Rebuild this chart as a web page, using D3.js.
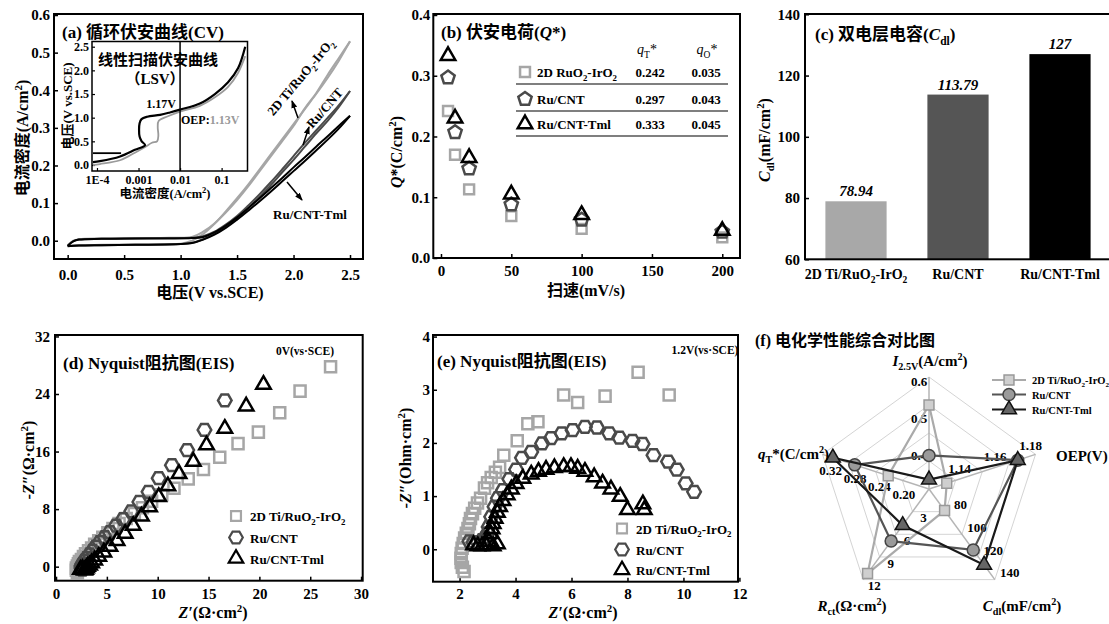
<!DOCTYPE html>
<html>
<head>
<meta charset="utf-8">
<script src="https://cdn.jsdelivr.net/npm/d3@7"></script>
<style>
body { margin: 0; background: #fff; }
svg { display: block; }
text { font-family: "Liberation Serif", "Noto Sans CJK SC", serif; font-weight: bold; }
</style>
</head>
<body>
<svg id="chart" width="1109" height="624"></svg>
<script>
// ---------- (a) CV data ----------
const cvVoltFwd = [0, 0.05, 0.1, 0.3, 0.6, 0.9, 1.1, 1.2, 1.3, 1.4, 1.5, 1.6, 1.7, 1.8, 1.9, 2.0, 2.1, 2.2, 2.3, 2.4, 2.5]
const cvVoltRev = [2.5, 2.4, 2.3, 2.2, 2.1, 2.0, 1.9, 1.8, 1.7, 1.6, 1.5, 1.4, 1.3, 1.2, 1.1, 1.0, 0.6, 0.3, 0.1, 0]
const cvTiFwd = [-0.012, 0.0, 0.004, 0.006, 0.007, 0.008, 0.01, 0.024, 0.046, 0.075, 0.108, 0.145, 0.185, 0.225, 0.265, 0.305, 0.352, 0.392, 0.44, 0.485, 0.53]
const cvTiRev = [0.53, 0.478, 0.432, 0.39, 0.35, 0.31, 0.27, 0.23, 0.19, 0.15, 0.113, 0.078, 0.045, 0.018, 0.0, -0.008, -0.01, -0.011, -0.012, -0.014]
const cvRuFwd = [-0.013, -0.001, 0.003, 0.005, 0.006, 0.007, 0.008, 0.012, 0.024, 0.043, 0.066, 0.094, 0.124, 0.156, 0.19, 0.225, 0.26, 0.293, 0.326, 0.36, 0.398]
const cvRuRev = [0.398, 0.355, 0.318, 0.285, 0.25, 0.215, 0.182, 0.148, 0.117, 0.087, 0.06, 0.037, 0.018, 0.004, -0.006, -0.009, -0.011, -0.012, -0.013, -0.014]
const cvTmlFwd = [-0.014, -0.002, 0.003, 0.005, 0.006, 0.006, 0.007, 0.01, 0.022, 0.04, 0.062, 0.087, 0.113, 0.14, 0.167, 0.195, 0.222, 0.25, 0.277, 0.305, 0.332]
const cvTmlRev = [0.332, 0.298, 0.268, 0.24, 0.212, 0.185, 0.158, 0.131, 0.105, 0.08, 0.056, 0.034, 0.016, 0.003, -0.006, -0.009, -0.011, -0.012, -0.013, -0.015]

// inset LSV (current density A/cm2, potential V)
const lsvBlackJ = [8e-5, 1.18e-4, 3.6e-4, 8.2e-4, 1.44e-3, 1.19e-3, 1.06e-3, 1.03e-3, 1.06e-3, 1.18e-3, 1.62e-3, 3.3e-3, 5.7e-3, 0.01, 0.03, 0.069, 0.143, 0.25, 0.37]
const lsvBlackV = [0.06, 0.08, 0.18, 0.32, 0.42, 0.5, 0.6, 0.75, 0.88, 0.97, 1.02, 1.06, 1.11, 1.17, 1.3, 1.5, 1.75, 2.05, 2.5]
const lsvBlack2J = [8e-5, 3.8e-4]
const lsvBlack2V = [0.25, 0.25]
const lsvGreyJ = [8e-5, 1.18e-4, 3.6e-4, 8.2e-4, 1.44e-3, 2.1e-3, 2.8e-3, 3.0e-3, 2.9e-3, 3.05e-3, 5.1e-3, 0.01, 0.03, 0.069, 0.143, 0.25, 0.37]
const lsvGreyV = [0.0, 0.02, 0.1, 0.26, 0.38, 0.47, 0.5, 0.62, 0.8, 0.93, 1.03, 1.13, 1.25, 1.43, 1.65, 1.95, 2.3]

// ---------- (b) voltammetric charge ----------
const scanRates = [5, 10, 20, 50, 100, 200]
const qTi = [0.242, 0.17, 0.113, 0.069, 0.048, 0.034]
const qRu = [0.297, 0.207, 0.147, 0.088, 0.063, 0.043]
const qTml = [0.333, 0.23, 0.165, 0.105, 0.071, 0.045]
const tableNames = ["2D RuO2-IrO2", "Ru/CNT", "Ru/CNT-Tml"]
const tableQT = ["0.242", "0.297", "0.333"]
const tableQO = ["0.035", "0.043", "0.045"]

// ---------- (c) double layer capacitance ----------
const samples = ["2D Ti/RuO2-IrO2", "Ru/CNT", "Ru/CNT-Tml"]
const cdlValues = [78.94, 113.79, 127]
const cdlLabels = ["78.94", "113.79", "127"]

// ---------- (d) EIS at 0 V ----------
const dTiX = [27.0, 24.0, 22.0, 19.9, 17.9, 16.1, 14.5, 13.0, 11.6, 10.4, 9.4, 8.5, 7.7, 6.9, 6.2, 5.6, 5.1, 4.6, 4.2, 3.8, 3.5, 3.2, 2.9, 2.7, 2.5, 2.3, 2.2, 2.1, 2.0, 2.0, 2.1]
const dTiY = [27.8, 24.4, 21.4, 18.7, 17.1, 15.2, 13.5, 12.2, 10.9, 10.0, 9.1, 8.2, 7.4, 6.7, 6.0, 5.3, 4.7, 4.1, 3.6, 3.1, 2.6, 2.2, 1.8, 1.4, 1.0, 0.7, 0.4, 0.1, -0.2, -0.5, -0.8]
const dRuX = [16.6, 14.6, 12.9, 11.4, 10.1, 9.1, 8.2, 7.4, 6.6, 5.9, 5.3, 4.8, 4.3, 3.9, 3.6, 3.3, 3.0, 2.8, 2.6, 2.5, 2.5, 2.6]
const dRuY = [23.1, 19.0, 16.2, 14.1, 12.3, 10.4, 9.0, 7.7, 6.6, 5.7, 4.8, 4.1, 3.4, 2.8, 2.2, 1.7, 1.2, 0.8, 0.4, 0.1, -0.2, -0.4]
const dTmlX = [20.4, 18.7, 16.6, 14.8, 13.5, 12.1, 11.0, 10.1, 9.2, 8.4, 7.6, 6.8, 6.0, 5.3, 4.7, 4.2, 3.8, 3.5, 3.3, 3.1, 3.0, 2.9, 2.8, 2.6, 2.4]
const dTmlY = [25.3, 22.3, 19.2, 16.9, 14.6, 12.9, 11.2, 9.7, 8.3, 7.0, 5.7, 4.6, 3.6, 2.8, 2.0, 1.4, 0.9, 0.5, 0.2, 0.0, -0.2, -0.4, -0.5, -0.3, -0.4]

// ---------- (e) EIS at 1.2 V ----------
const eTiX = [2.16, 2.1, 2.06, 2.05, 2.06, 2.09, 2.13, 2.18, 2.24, 2.3, 2.35, 2.39, 2.46, 2.54, 2.64, 2.75, 2.89, 3.0, 3.13, 3.28, 3.43, 3.58, 4.06, 4.44, 4.8, 5.72, 6.22, 7.2, 8.38, 9.49]
const eTiY = [-0.42, -0.34, -0.25, -0.17, -0.08, 0.02, 0.11, 0.21, 0.3, 0.39, 0.48, 0.58, 0.67, 0.77, 0.87, 0.96, 1.15, 1.25, 1.35, 1.45, 1.54, 1.77, 2.04, 2.36, 2.4, 2.9, 2.76, 2.88, 3.33, 2.9]
const eRuX = [2.35, 2.5, 2.65, 2.8, 2.92, 3.0, 3.04, 3.13, 3.25, 3.37, 3.55, 3.78, 4.02, 4.23, 4.56, 4.95, 5.27, 5.65, 6.04, 6.48, 6.91, 7.35, 7.71, 8.18, 8.54, 8.93, 9.45, 9.76, 10.08, 10.38]
const eRuY = [0.15, 0.13, 0.13, 0.17, 0.22, 0.3, 0.42, 0.61, 0.8, 0.96, 1.11, 1.32, 1.5, 1.72, 1.83, 1.99, 2.09, 2.18, 2.24, 2.3, 2.29, 2.18, 2.1, 2.04, 1.98, 1.77, 1.65, 1.5, 1.24, 1.08]
const eTmlX = [2.5, 2.65, 2.8, 2.95, 3.05, 3.2, 3.35, 3.11, 3.16, 3.2, 3.27, 3.35, 3.43, 3.55, 3.7, 3.85, 4.02, 4.26, 4.56, 4.82, 5.09, 5.39, 5.72, 5.98, 6.22, 6.48, 6.81, 7.11, 7.41, 7.74, 8.0, 8.55, 8.6]
const eTmlY = [0.08, 0.06, 0.06, 0.08, 0.14, 0.06, 0.1, 0.29, 0.38, 0.48, 0.58, 0.69, 0.8, 0.91, 1.02, 1.13, 1.23, 1.33, 1.41, 1.46, 1.5, 1.53, 1.55, 1.55, 1.52, 1.46, 1.36, 1.24, 1.13, 0.99, 0.74, 0.85, 0.74]

// ---------- (f) radar ----------
const radarDomains = [[0.3, 0.6], [1.12, 1.18], [60, 140], [0, 12], [0.175, 0.35]]
const radarTicks = [[0.4, 0.5, 0.6], [1.14, 1.16, 1.18], [80, 100, 120, 140], [3, 6, 9, 12], [0.20, 0.24, 0.28, 0.32]]
const radarTickFmt = [".1f", ".2f", "d", "d", ".2f"]
const radarTi = [0.525, 1.13, 78.94, 11.2, 0.242]
const radarRu = [0.39, 1.17, 113.79, 6.9, 0.297]
const radarTml = [0.325, 1.17, 127, 4.8, 0.333]

const svg = d3.select("#chart")
svg.append("rect").attr("width", 1109).attr("height", 624).attr("fill", "#fff")

// ---------- helpers ----------
function rich(sel, parts, fs) {
    let cur = 0
    parts.forEach(p => {
        const [s, k] = typeof p === "string" ? [p, ""] : p
        const keys = k.split(" ")
        const t = sel.append("tspan").text(s)
        let off = 0
        if (keys.includes("sub")) { off = fs * 0.28; t.attr("font-size", fs * 0.68) }
        if (keys.includes("sup")) { off = -fs * 0.38; t.attr("font-size", fs * 0.68) }
        if (keys.includes("i")) t.attr("font-style", "italic")
        if (keys.includes("n")) t.attr("font-weight", "normal")
        if (keys.includes("g")) t.attr("fill", "#9a9a9a")
        t.attr("dy", off - cur)
        cur = off
    })
    return sel
}

function label(g, x, y, parts, fs, anchor = "middle", rot = 0) {
    const t = g.append("text")
        .attr("font-size", fs)
        .attr("text-anchor", anchor)
        .attr("transform", `translate(${x},${y}) rotate(${rot})`)
    return rich(t, parts, fs)
}

function chem(s) {
    return s.split(/(O2)/).filter(p => p).flatMap(p => p == "O2" ? ["O", ["2", "sub"]] : [p])
}

function polyPath(n, r, start) {
    let pts = d3.range(n).map(i => {
        let a = (start + i * 360 / n) * Math.PI / 180
        return [r * Math.cos(a), r * Math.sin(a)]
    })
    return "M" + pts.map(p => p[0].toFixed(2) + "," + p[1].toFixed(2)).join("L") + "Z"
}

const shapes = {
    square: polyPath(4, 7.8, 45),
    squareS: polyPath(4, 7, 45),
    hexagon: polyPath(6, 6.8, 0),
    pentagon: polyPath(5, 7, -90),
    triangle: polyPath(3, 8.4, -90)
}

function axes(g, x, y, xt, yt, xf, yf, padX, padY) {
    let gx = g.append("g").attr("transform", `translate(0,${y.range()[0]})`)
        .call(d3.axisBottom(x).tickValues(xt).tickFormat(xf).tickSize(-4).tickPadding(padX))
    let gy = g.append("g").attr("transform", `translate(${x.range()[0]},0)`)
        .call(d3.axisLeft(y).tickValues(yt).tickFormat(yf).tickSize(-4).tickPadding(padY))
    for (let a of [gx, gy]) {
        a.select(".domain").remove()
        a.selectAll("text").attr("font-size", 15).attr("fill", "#000")
        a.selectAll("line").attr("stroke", "#000").attr("stroke-width", 1.5)
    }
    return [gx, gy]
}

function frame(g, x, y, w = 2) {
    g.append("rect")
        .attr("x", x.range()[0]).attr("y", y.range()[1])
        .attr("width", x.range()[1] - x.range()[0])
        .attr("height", y.range()[0] - y.range()[1])
        .attr("fill", "none").attr("stroke", "#000").attr("stroke-width", w)
}

function scatter(g, x, y, xs, ys, shape, color, sw = 2.5) {
    g.append("g").selectAll("path")
        .data(d3.zip(xs, ys))
        .enter().append("path")
        .attr("d", shapes[shape])
        .attr("transform", d => `translate(${x(d[0])},${y(d[1])})`)
        .attr("fill", "none")
        .attr("stroke", color)
        .attr("stroke-width", sw)
}

svg.append("defs").append("marker")
    .attr("id", "arr").attr("viewBox", "0 0 8 6")
    .attr("refX", 7).attr("refY", 3)
    .attr("markerWidth", 8).attr("markerHeight", 6)
    .attr("markerUnits", "userSpaceOnUse")
    .attr("orient", "auto")
    .append("path").attr("d", "M0,0L8,3L0,6Z").attr("fill", "#000")

const colTi = "#a6a6a6", colRu = "#4a4a4a", colTml = "#000"

// ================= (a) =================
const ga = svg.append("g")
const ax = d3.scaleLinear().domain([-0.121, 2.615]).range([54, 363])
const ay = d3.scaleLinear().domain([-0.0486, 0.6027]).range([259, 14])
axes(ga, ax, ay, [0, 0.5, 1, 1.5, 2, 2.5], [0, 0.1, 0.2, 0.3, 0.4, 0.5, 0.6], d3.format(".1f"), d3.format(".1f"), 10, 4)

let cvLine = d3.line().x(d => ax(d[0])).y(d => ay(d[1])).curve(d3.curveCatmullRom)
let cvSeries = [
    [cvTiFwd, cvTiRev, colTi],
    [cvRuFwd, cvRuRev, colRu],
    [cvTmlFwd, cvTmlRev, colTml]
]
cvSeries.forEach(([f, r, c]) => {
    ga.append("path").attr("d", cvLine(d3.zip(cvVoltFwd, f))).attr("fill", "none").attr("stroke", c).attr("stroke-width", 2)
    ga.append("path").attr("d", cvLine(d3.zip(cvVoltRev, r))).attr("fill", "none").attr("stroke", c).attr("stroke-width", 2)
})
frame(ga, ax, ay)

label(ga, 62, 38, ["(a) 循环伏安曲线(CV)"], 17, "start")
label(ga, 210, 298, ["电压(V vs.SCE)"], 16)
label(ga, 28, 138, ["电流密度(A/cm", ["2", "sup"], ")"], 16, "middle", -90)

// series annotations
label(ga, 304, 80, chem("2D Ti/RuO2-IrO2"), 13, "middle", -50)
label(ga, 328, 111, ["Ru/CNT"], 13, "middle", -49)
label(ga, 310, 219, ["Ru/CNT-Tml"], 13)
const arrows = [[298, 118, 292, 101], [303, 145, 309, 127], [287, 182, 302, 200]]
arrows.forEach(a => ga.append("line")
    .attr("x1", a[0]).attr("y1", a[1]).attr("x2", a[2]).attr("y2", a[3])
    .attr("stroke", "#000").attr("stroke-width", 1.5).attr("marker-end", "url(#arr)"))

// inset LSV
const gi = svg.append("g")
const ix = d3.scaleLog().domain([Math.pow(10, -4.12), 0.42]).range([92, 247.5])
const iy = d3.scaleLinear().domain([-0.127, 2.61]).range([171, 41.5])
gi.append("rect").attr("x", 92).attr("y", 41.5).attr("width", 155.5).attr("height", 129.5).attr("fill", "#fff")
let gix = gi.append("g").attr("transform", "translate(0,171)")
    .call(d3.axisBottom(ix).tickValues([1e-4, 1e-3, 1e-2, 1e-1]).tickFormat(d => d < 5e-4 ? "1E-4" : String(d)).tickSize(-3).tickPadding(4))
let giy = gi.append("g").attr("transform", "translate(92,0)")
    .call(d3.axisLeft(iy).tickValues([0, 0.5, 1, 1.5, 2, 2.5]).tickFormat(d3.format(".1f")).tickSize(-3).tickPadding(3))
for (let a of [gix, giy]) {
    a.select(".domain").remove()
    a.selectAll("text").attr("font-size", 12).attr("fill", "#000")
    a.selectAll("line").attr("stroke", "#000").attr("stroke-width", 1.2)
}
let lsvLine = d3.line().x(d => ix(d[0])).y(d => iy(d[1])).curve(d3.curveCatmullRom)
gi.append("path").attr("d", lsvLine(d3.zip(lsvGreyJ, lsvGreyV))).attr("fill", "none").attr("stroke", "#9a9a9a").attr("stroke-width", 1.8)
gi.append("path").attr("d", lsvLine(d3.zip(lsvBlackJ, lsvBlackV))).attr("fill", "none").attr("stroke", "#000").attr("stroke-width", 2.2)
gi.append("path").attr("d", lsvLine(d3.zip(lsvBlack2J, lsvBlack2V))).attr("fill", "none").attr("stroke", "#000").attr("stroke-width", 1.8)
gi.append("line").attr("x1", ix(0.01)).attr("x2", ix(0.01)).attr("y1", 41.5).attr("y2", 171).attr("stroke", "#000").attr("stroke-width", 1.5)
gi.append("rect").attr("x", 92).attr("y", 41.5).attr("width", 155.5).attr("height", 129.5).attr("fill", "none").attr("stroke", "#000").attr("stroke-width", 1.5)
label(gi, 158, 65, ["线性扫描伏安曲线"], 15)
label(gi, 155, 84, ["（LSV）"], 15)
label(gi, 176, 108, ["1.17V"], 12, "end")
label(gi, 181, 124, ["OEP:", ["1.13V", "g"]], 12, "start")
label(gi, 165, 198, ["电流密度(A/cm", ["2", "sup"], ")"], 12.5)
label(gi, 72, 106, ["电压(V vs.SCE)"], 13, "middle", -90)

// ================= (b) =================
const gb = svg.append("g")
const bx = d3.scaleLinear().domain([-5.47, 212.6]).range([433.3, 740])
const by = d3.scaleLinear().domain([0, 0.4016]).range([258, 14])
axes(gb, bx, by, [0, 50, 100, 150, 200], [0, 0.1, 0.2, 0.3, 0.4], d3.format("d"), d3.format(".1f"), 7, 3)
scatter(gb, bx, by, scanRates, qTi, "squareS", colTi)
scatter(gb, bx, by, scanRates, qRu, "pentagon", colRu)
scatter(gb, bx, by, scanRates, qTml, "triangle", colTml)
frame(gb, bx, by)
label(gb, 441, 38, ["(b) 伏安电荷(", ["Q", "i"], "*)"], 17, "start")
label(gb, 586, 296, ["扫速(mV/s)"], 16)
label(gb, 402, 152, [["Q", "i"], "*(C/cm", ["2", "sup"], ")"], 16, "middle", -90)

// table legend
const rowY = [72, 99, 124]
const tableShapes = ["squareS", "pentagon", "triangle"]
const tableCols = [colTi, colRu, colTml]
label(gb, 647, 54, [["q", "i n"], ["T", "sub n"], ["*", "n"]], 14)
label(gb, 707, 54, [["q", "i n"], ["O", "sub n"], ["*", "n"]], 14)
rowY.forEach((yy, i) => {
    gb.append("path").attr("d", shapes[tableShapes[i]]).attr("transform", `translate(525,${yy})`)
        .attr("fill", "none").attr("stroke", tableCols[i]).attr("stroke-width", 2.5)
    label(gb, 537, yy + 5, chem(tableNames[i]), 13, "start")
    label(gb, 650, yy + 5, [tableQT[i]], 13)
    label(gb, 706, yy + 5, [tableQO[i]], 13)
    gb.append("line").attr("x1", 516).attr("x2", 728).attr("y1", yy + 12).attr("y2", yy + 12)
        .attr("stroke", "#555").attr("stroke-width", 1.5)
})

// ================= (c) =================
const gc = svg.append("g")
const cx = d3.scaleBand().domain(samples).range([805, 1111]).paddingInner(0.4).paddingOuter(0.2)
const cy = d3.scaleLinear().domain([60, 140.1]).range([259.3, 14])
const barCols = ["#a8a8a8", "#555555", "#000000"]
gc.selectAll("rect.bar")
    .data(d3.zip(samples, cdlValues, barCols))
    .enter().append("rect").attr("class", "bar")
    .attr("x", d => cx(d[0])).attr("width", cx.bandwidth())
    .attr("y", d => cy(d[1])).attr("height", d => cy(60) - cy(d[1]))
    .attr("fill", d => d[2])
gc.selectAll("text.val")
    .data(d3.zip(samples, cdlValues, cdlLabels))
    .enter().append("text").attr("class", "val")
    .attr("x", d => cx(d[0]) + cx.bandwidth() / 2).attr("y", d => cy(d[1]) - 5)
    .attr("text-anchor", "middle").attr("font-size", 15).attr("font-style", "italic")
    .text(d => d[2])
let gcx = gc.append("g").attr("transform", "translate(0,259.3)")
    .call(d3.axisBottom(cx).tickSize(0).tickPadding(10))
gcx.select(".domain").remove()
gcx.selectAll("text").attr("font-size", 14).attr("fill", "#000").each(function (d) {
    let t = d3.select(this)
    t.text(null).attr("dy", null).attr("y", 20)
    rich(t, chem(d), 14)
})
let gcy = gc.append("g").attr("transform", "translate(805,0)")
    .call(d3.axisLeft(cy).tickValues([60, 80, 100, 120, 140]).tickSize(-4).tickPadding(5))
gcy.select(".domain").remove()
gcy.selectAll("text").attr("font-size", 15).attr("fill", "#000")
gcy.selectAll("line").attr("stroke", "#000").attr("stroke-width", 1.5)
gc.append("rect").attr("x", 805).attr("y", 14).attr("width", 310).attr("height", 245.3)
    .attr("fill", "none").attr("stroke", "#000").attr("stroke-width", 2)
label(gc, 815, 40, ["(c) 双电层电容(", ["C", "i"], ["dl", "sub"], ")"], 17, "start")
label(gc, 770, 140, [["C", "i"], ["dl", "sub"], "(mF/cm", ["2", "sup"], ")"], 16, "middle", -90)

// ================= (d) =================
const gd = svg.append("g")
const dx = d3.scaleLinear().domain([-0.1, 30.16]).range([55, 362.7])
const dy = d3.scaleLinear().domain([-1.95, 32.2]).range([580.7, 335])
axes(gd, dx, dy, [0, 5, 10, 15, 20, 25, 30], [0, 8, 16, 24, 32], d3.format("d"), d3.format("d"), 8, 5)
scatter(gd, dx, dy, dTiX, dTiY, "square", colTi)
scatter(gd, dx, dy, dRuX, dRuY, "hexagon", colRu)
scatter(gd, dx, dy, dTmlX, dTmlY, "triangle", colTml)
frame(gd, dx, dy)
label(gd, 63, 369, ["(d) Nyquist阻抗图(EIS)"], 17, "start")
label(gd, 305, 355, ["0V(vs·SCE)"], 11.5)
label(gd, 213, 618, [["Z′", "i"], "(Ω·cm", ["2", "sup"], ")"], 16)
label(gd, 34, 460, [["-Z″", "i"], "(Ω·cm", ["2", "sup"], ")"], 16, "middle", -90)

// ================= (e) =================
const ge = svg.append("g")
const ex = d3.scaleLinear().domain([1.05, 11.95]).range([433, 738])
const ey = d3.scaleLinear().domain([-0.61, 4.03]).range([581.7, 335])
axes(ge, ex, ey, [2, 4, 6, 8, 10, 12], [0, 1, 2, 3, 4], d3.format("d"), d3.format("d"), 7, 3)
scatter(ge, ex, ey, eTiX, eTiY, "square", colTi)
scatter(ge, ex, ey, eRuX, eRuY, "hexagon", colRu)
scatter(ge, ex, ey, eTmlX, eTmlY, "triangle", colTml)
frame(ge, ex, ey)
label(ge, 437, 367, ["(e) Nyquist阻抗图(EIS)"], 17, "start")
label(ge, 705, 354, ["1.2V(vs·SCE)"], 11.5)
label(ge, 583, 618, [["Z′", "i"], "(Ω·cm", ["2", "sup"], ")"], 16)
label(ge, 411, 458, [["-Z″", "i"], "(Ohm·cm", ["2", "sup"], ")"], 16, "middle", -90)

// legends for (d) and (e)
const legendShapes = ["square", "hexagon", "triangle"]
const legendCols = [colTi, colRu, colTml]
function eisLegend(g, mx, tx, ys) {
    ys.forEach((yy, i) => {
        g.append("path").attr("d", legendShapes[i] == "square" ? shapes.squareS : shapes[legendShapes[i]])
            .attr("transform", `translate(${mx},${yy})`)
            .attr("fill", "none").attr("stroke", legendCols[i]).attr("stroke-width", 2.2)
        label(g, tx, yy + 5, chem(samples[i]), 13, "start")
    })
}
eisLegend(gd, 236, 250, [516, 537.5, 558.5])
eisLegend(ge, 622, 636, [528.5, 549.5, 570])

// ================= (f) radar =================
const gf = svg.append("g")
const rc = [929, 489], R = 112
const rScales = radarDomains.map(d => d3.scaleLinear().domain(d).range([0, R]))
function rpt(i, r) {
    let a = i * 72 * Math.PI / 180
    return [rc[0] + r * Math.sin(a), rc[1] - r * Math.cos(a)]
}
const closed = d3.line().curve(d3.curveLinearClosed)
;[0.25, 0.5, 0.75, 1].forEach(f => {
    gf.append("path").attr("d", closed(d3.range(5).map(i => rpt(i, R * f))))
        .attr("fill", "none").attr("stroke", "#d4d4d4").attr("stroke-width", 1)
})
d3.range(5).forEach(i => {
    let p = rpt(i, R)
    gf.append("line").attr("x1", rc[0]).attr("y1", rc[1]).attr("x2", p[0]).attr("y2", p[1])
        .attr("stroke", "#b5b5b5").attr("stroke-width", 1.5)
})
const tickOff = [[-10, 4], [-5, -9], [15, -7], [11, 6], [-10, 10]]
radarTicks.forEach((ticks, i) => {
    ticks.forEach(v => {
        let p = rpt(i, rScales[i](v))
        gf.append("text").attr("x", p[0] + tickOff[i][0]).attr("y", p[1] + tickOff[i][1])
            .attr("dy", "0.35em").attr("text-anchor", "middle").attr("font-size", 13)
            .text(d3.format(radarTickFmt[i])(v))
    })
})
const radarSeries = [
    [radarTi, "#aaaaaa", "#cfcfcf", "#999", "square"],
    [radarRu, "#555555", "#9a9a9a", "#444", "circle"],
    [radarTml, "#1a1a1a", "#666666", "#111", "triangle"]
]
function radarMarker(g, kind, x, y, fill, stroke) {
    let m
    if (kind == "circle") m = g.append("circle").attr("cx", x).attr("cy", y).attr("r", 6)
    else m = g.append("path").attr("d", kind == "square" ? polyPath(4, 7, 45) : polyPath(3, 8.6, -90)).attr("transform", `translate(${x},${y})`)
    m.attr("fill", fill).attr("stroke", stroke).attr("stroke-width", 1.5)
}
radarSeries.forEach(([vals, lc, fill, stroke, kind]) => {
    let pts = vals.map((v, i) => rpt(i, rScales[i](v)))
    gf.append("path").attr("d", closed(pts)).attr("fill", "none").attr("stroke", lc).attr("stroke-width", 2.2)
    pts.forEach(p => radarMarker(gf, kind, p[0], p[1], fill, stroke))
})
label(gf, 755, 346, ["(f) 电化学性能综合对比图"], 16, "start")
label(gf, 930, 366, [["I", "i"], ["2.5V", "sub"], "(A/cm", ["2", "sup"], ")"], 15)
label(gf, 1056, 461, ["OEP(V)"], 15, "start")
label(gf, 829, 459, [["q", "i"], ["T", "sub"], "*(C/cm", ["2", "sup"], ")"], 15, "end")
label(gf, 852, 611, [["R", "i"], ["ct", "sub"], "(Ω·cm", ["2", "sup"], ")"], 15)
label(gf, 1022, 611, [["C", "i"], ["dl", "sub"], "(mF/cm", ["2", "sup"], ")"], 15)

// radar legend
const fLegY = [380, 394.5, 409.5]
radarSeries.forEach(([vals, lc, fill, stroke, kind], i) => {
    gf.append("line").attr("x1", 992).attr("x2", 1026).attr("y1", fLegY[i]).attr("y2", fLegY[i])
        .attr("stroke", lc).attr("stroke-width", 2)
    radarMarker(gf, kind, 1009, fLegY[i], fill, stroke)
    label(gf, 1032, fLegY[i] + 4, chem(samples[i]), 10.5, "start")
})
</script>
</body>
</html>
